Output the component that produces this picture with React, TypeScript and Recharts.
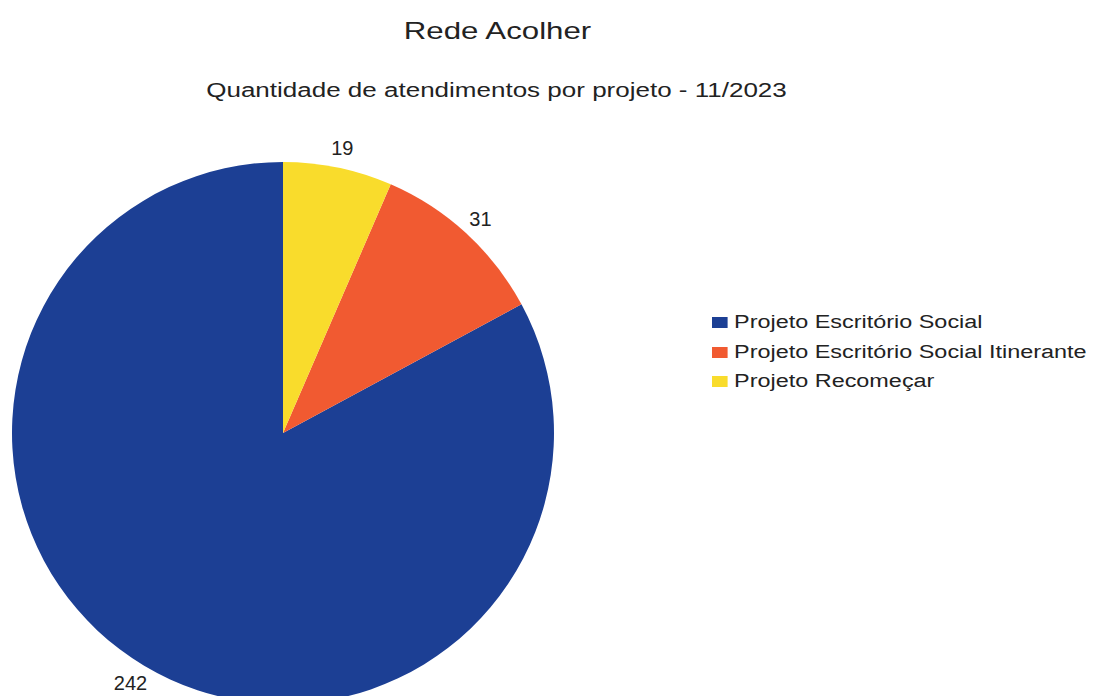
import { PieChart, Pie, Cell, Legend } from 'recharts'

const projetos = ['Projeto Escritório Social', 'Projeto Escritório Social Itinerante', 'Projeto Recomeçar']
const atendimentos = [242, 31, 19]
const cores = ['#1c3f94', '#f15a31', '#f9dc2c']

const data = projetos.map((nome, i) => ({ nome, valor: atendimentos[i] }))

const FONTE = 'Liberation Sans, Arial, sans-serif'
const RADIAN = Math.PI / 180
// the scanned original is stretched sideways a bit
const ESTICA = 'scaleX(1.3)'

// eslint-disable-next-line @typescript-eslint/no-explicit-any
function ValorLabel({ cx, cy, midAngle, outerRadius, value }: any) {
  const fs = 20
  const cos = Math.cos(-midAngle * RADIAN)
  const sin = Math.sin(-midAngle * RADIAN)
  const w = String(value).length * fs * 0.556
  const r = outerRadius + 10
  const x = cx + r * cos + (cos * w) / 2
  const y = cy + r * sin + (sin * fs) / 2
  return (
    <text x={x} y={y} fill="#222" fontSize={fs} fontFamily={FONTE} textAnchor="middle" dominantBaseline="central">
      {value}
    </text>
  )
}

function Legenda() {
  return (
    <div style={{ fontFamily: FONTE, fontSize: 18, color: '#222', transform: ESTICA, transformOrigin: 'left top' }}>
      {data.map((d, i) => (
        <div key={d.nome} style={{ display: 'flex', alignItems: 'center', height: 29.5, whiteSpace: 'nowrap' }}>
          <span style={{ width: 12, height: 11, background: cores[i], marginRight: 5, display: 'inline-block' }} />
          {d.nome}
        </div>
      ))}
    </div>
  )
}

export default function App() {
  return (
    <div style={{ position: 'absolute', left: 0, top: 0, width: 1101, height: 696, background: '#fff', overflow: 'hidden' }}>
      <div style={{ position: 'absolute', left: 0, width: 995, top: 19, lineHeight: '24px', textAlign: 'center', fontFamily: FONTE, fontSize: 24, color: '#222', transform: ESTICA }}>
        Rede Acolher
      </div>
      <div style={{ position: 'absolute', left: 0, width: 993, top: 80, lineHeight: '20px', textAlign: 'center', fontFamily: FONTE, fontSize: 20, color: '#222', transform: ESTICA }}>
        Quantidade de atendimentos por projeto - 11/2023
      </div>
      <PieChart width={1101} height={696} margin={{ top: 0, right: 0, bottom: 0, left: 0 }} style={{ position: 'absolute', left: 0, top: 0 }}>
        <Pie
          data={data}
          dataKey="valor"
          nameKey="nome"
          cx={283}
          cy={433}
          outerRadius={271}
          startAngle={90}
          endAngle={450}
          stroke="none"
          label={ValorLabel}
          labelLine={false}
          isAnimationActive={false}
        >
          {data.map((d, i) => (
            <Cell key={d.nome} fill={cores[i]} />
          ))}
        </Pie>
        <Legend
          layout="vertical"
          content={<Legenda />}
          wrapperStyle={{ left: 712, top: 308, width: 300 }}
        />
      </PieChart>
    </div>
  )
}
